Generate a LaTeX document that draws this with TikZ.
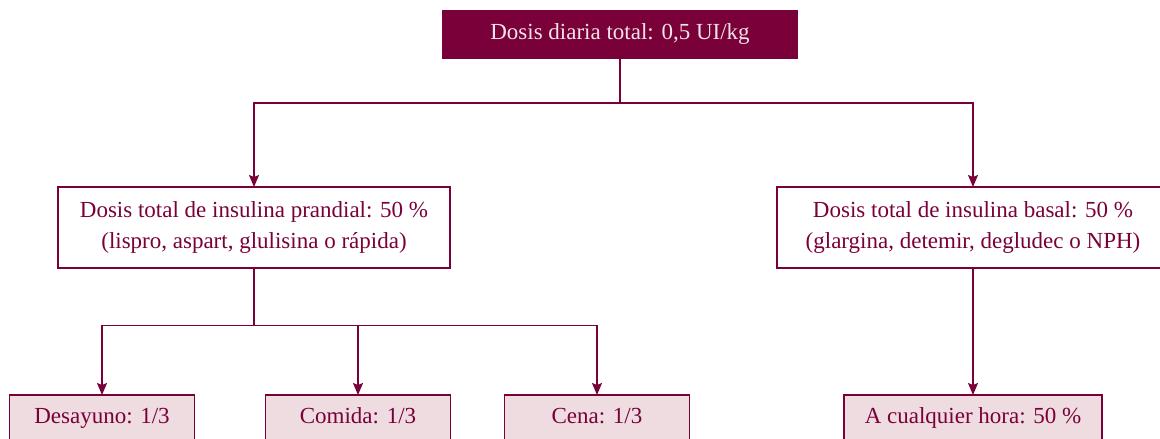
\documentclass[tikz,border=0pt]{standalone}
\usepackage{fontspec}
\setmainfont{Liberation Serif}
\usetikzlibrary{arrows.meta}
\definecolor{maroon}{HTML}{7A0039}
\definecolor{pinkfill}{HTML}{EEDCE1}
\definecolor{lighttext}{HTML}{F3E3E9}
\begin{document}
\begin{tikzpicture}[x=1pt,y=-1pt,
  every node/.style={font=\fontsize{23}{32}\selectfont, inner sep=0pt, outer sep=0pt},
  topbox/.style={fill=maroon, draw=maroon, text=lighttext, minimum width=355pt, minimum height=48pt},
  midbox/.style={draw=maroon, line width=1.2pt, fill=white, text=maroon, align=center, minimum width=392pt, minimum height=81pt},
  leafbox/.style={draw=maroon, line width=1.2pt, fill=pinkfill, text=maroon, minimum height=60pt, text depth=0pt},
  conn/.style={draw=maroon, line width=1.3pt},
  arr/.style={conn, -{Stealth[length=12pt,width=10pt,inset=2pt]}}
]
\useasboundingbox (0,0) rectangle (1160,439);
\node[topbox] (top) at (620,34) {Dosis diaria total: 0,5 UI/kg};
\node[midbox] (pran) at (254,227.5) {Dosis total de insulina prandial: 50 \%\\(lispro, aspart, glulisina o rápida)};
\node[midbox] (bas) at (973,227.5) {Dosis total de insulina basal: 50 \%\\(glargina, detemir, degludec o NPH)};
\node[leafbox, minimum width=185pt, anchor=north] (des) at (102,395) {};
\node[leafbox, minimum width=185pt, anchor=north] (com) at (358,395) {};
\node[leafbox, minimum width=185pt, anchor=north] (cen) at (597,395) {};
\node[leafbox, minimum width=258pt, anchor=north] (cual) at (973,395) {};
\node[text=maroon, anchor=base] (tdes) at (102,423) {Desayuno: 1/3};
\node[text=maroon, anchor=base] (tcom) at (358,423) {Comida: 1/3};
\node[text=maroon, anchor=base] (tcen) at (597,423) {Cena: 1/3};
\node[text=maroon, anchor=base] (tcual) at (973,423) {A cualquier hora: 50 \%};
\coordinate (j1) at (620,103);
\coordinate (j2) at (254,325.5);
\draw[conn] (top.south) -- (j1);
\draw[arr] (j1) -| (pran.north);
\draw[arr] (j1) -| (bas.north);
\draw[conn] (pran.south) -- (j2);
\draw[arr] (j2) -| (des.north);
\draw[arr] (j2) -| (com.north);
\draw[arr] (j2) -| (cen.north);
\draw[arr] (bas.south) -- (cual.north);
\end{tikzpicture}
\end{document}
